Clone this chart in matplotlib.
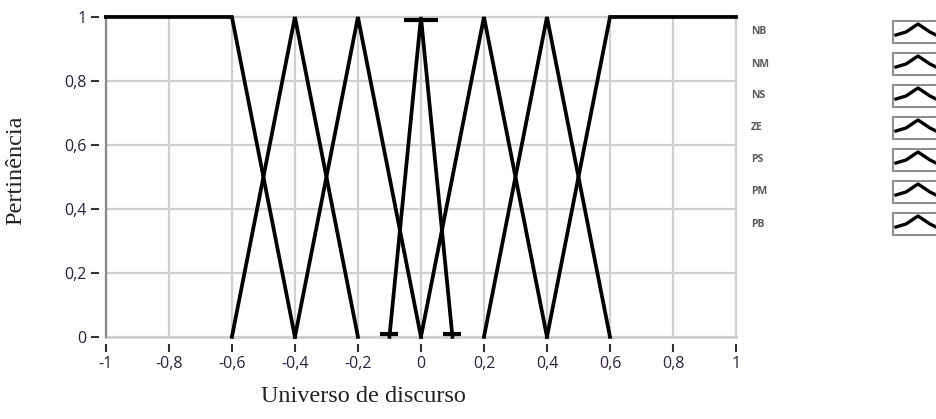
import numpy as np
import matplotlib.pyplot as plt
from matplotlib.patches import Rectangle
from matplotlib.lines import Line2D

# Conjuntos fuzzy (vertices de cada funcao de pertinencia)
set_names = ['NB', 'NM', 'NS', 'ZE', 'PS', 'PM', 'PB']
set_x = [
    [-1.0, -0.6, -0.4],
    [-0.6, -0.4, -0.2],
    [-0.4, -0.2, 0.0],
    [-0.1, 0.0, 0.1],
    [0.0, 0.2, 0.4],
    [0.2, 0.4, 0.6],
    [0.4, 0.6, 1.0],
]
set_y = [
    [1, 1, 0],
    [0, 1, 0],
    [0, 1, 0],
    [0, 1, 0],
    [0, 1, 0],
    [0, 1, 0],
    [0, 1, 1],
]

x_ticks = [-1, -0.8, -0.6, -0.4, -0.2, 0, 0.2, 0.4, 0.6, 0.8, 1]
x_ticklabels = ['-1', '-0,8', '-0,6', '-0,4', '-0,2', '0', '0,2', '0,4', '0,6', '0,8', '1']
y_ticks = [0, 0.2, 0.4, 0.6, 0.8, 1]
y_ticklabels = ['0', '0,2', '0,4', '0,6', '0,8', '1']

label_color = '#2b2040'
grid_color = '#cfcfcf'

fig = plt.figure(figsize=(9.37, 4.19), dpi=100)
ax = fig.add_axes([0.113, 0.196, 0.6725, 0.7635])

for i, name in enumerate(set_names):
    ax.plot(set_x[i], set_y[i], color='black', linewidth=2.7, clip_on=False,
            solid_joinstyle='miter', zorder=3)

# marcadores do conjunto ZE
ze = set_names.index('ZE')
ax.plot(set_x[ze][0::2], [0.01, 0.01], linestyle='none', marker='_',
        markersize=13, markeredgewidth=3, color='black', clip_on=False, zorder=3)
ax.plot(set_x[ze][1:2], [0.99], linestyle='none', marker='_',
        markersize=24, markeredgewidth=3, color='black', clip_on=False, zorder=3)

ax.set_xlim(-1, 1)
ax.set_ylim(0, 1)
ax.set_xticks(x_ticks)
ax.set_xticklabels(x_ticklabels)
ax.set_yticks(y_ticks)
ax.set_yticklabels(y_ticklabels)

ax.grid(True, color=grid_color, linewidth=1.6)
ax.set_axisbelow(True)

for s in ['top', 'right']:
    ax.spines[s].set_color(grid_color)
    ax.spines[s].set_linewidth(1.6)
ax.spines['bottom'].set_visible(False)
ax.spines['left'].set_visible(False)
ax.spines['bottom'].set_position(('outward', 5))
ax.spines['left'].set_position(('outward', 5))
ax.axhline(0, color=grid_color, linewidth=2.0, zorder=1, clip_on=False)
ax.axvline(-1, color='#8a8a8a', linewidth=1.6, zorder=2, clip_on=False)

ax.tick_params(axis='both', direction='out', length=6, width=1.5,
               color='#333333', labelcolor=label_color, labelsize=11.5, pad=3)
for lab in ax.get_xticklabels() + ax.get_yticklabels():
    lab.set_fontfamily('Open Sans')

ax.set_xlabel('Universo de discurso', fontfamily='Liberation Serif',
              fontsize=17.5, color='#222222', va='center')
ax.set_ylabel('Pertinência', fontfamily='Liberation Serif',
              fontsize=17.5, color='#222222', va='center')
ax.xaxis.set_label_coords((364 - 106) / 630, (337 - 397) / 320)
ax.yaxis.set_label_coords((16 - 106) / 630, (337 - 170) / 320)

# legenda lateral com icones
W, H = 937, 419
for i, name in enumerate(set_names):
    yc = 32 + i * 32
    fig.text(751 / W, 1 - yc / H, name, fontsize=7.5, fontfamily='Open Sans',
             fontweight='bold', color='#5a5a5a', va='center', ha='left')
    box = Rectangle((893 / W, 1 - (yc + 11) / H), 60 / W, 22 / H,
                    transform=fig.transFigure, facecolor='white',
                    edgecolor='#8c8c8c', linewidth=1.4)
    fig.patches.append(box)
    icon = Line2D(np.array([896, 906, 918, 930, 940]) / W,
                  1 - np.array([yc + 3, yc, yc - 8, yc, yc + 5]) / H,
                  transform=fig.transFigure, color='black', linewidth=2.4)
    fig.lines.append(icon)

fig.savefig('out.png', dpi=100)
